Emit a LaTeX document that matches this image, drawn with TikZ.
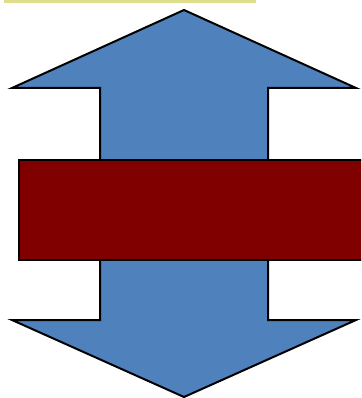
\documentclass[tikz,border=0pt]{standalone}
\usepackage{xcolor}
\usepackage{tikz}
\definecolor{shaftblue}{HTML}{4F81BD}
\definecolor{barred}{HTML}{800000}
\definecolor{noteyellow}{HTML}{DEDE8C}

\begin{document}
\begin{tikzpicture}[
    x=1pt,
    y=-1pt,
    arrowbody/.style={fill=shaftblue, draw=black, line width=2pt, line join=miter},
    crossbar/.style={fill=barred, draw=black, line width=2pt},
    notestrip/.style={fill=noteyellow, draw=noteyellow, line width=0.5pt},
]
\useasboundingbox (0,0) rectangle (361,398);
\clip (0,0) rectangle (361,398);
% note strip cut by the top edge
\fill[notestrip] (4,-10) rectangle (255,2);
% double arrow
\coordinate (tipN) at (184,10);
\coordinate (tipS) at (184,397);
\draw[arrowbody] (tipN) -- (356,88) -- (268,88) -- (268,320) -- (356,320)
  -- (tipS) -- (12,320) -- (100,320) -- (100,88) -- (12,88) -- cycle;
% bar across the shaft
\draw[crossbar] (19,160) rectangle (370,260);
\end{tikzpicture}
\end{document}
